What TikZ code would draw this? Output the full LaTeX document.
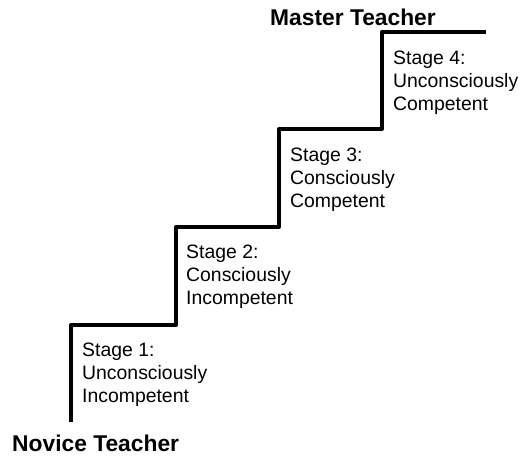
\documentclass[tikz,border=0pt]{standalone}
\usepackage{fontspec}
\setmainfont{Liberation Sans}
\begin{document}
\begin{tikzpicture}[x=1pt,y=-1pt,
  stair/.style={line width=4pt,line join=round,line cap=butt},
  stagelabel/.style={anchor=base west,inner sep=0pt,font={\fontsize{19.4}{23}\selectfont}},
  title/.style={anchor=base west,inner sep=0pt,font={\fontsize{22.8}{26}\selectfont\bfseries}}]
\useasboundingbox (0,0) rectangle (523,456);
\coordinate (s0) at (71,422);
\coordinate (c1) at (71,325);
\coordinate (e1) at (176,325);
\coordinate (c2) at (176,227);
\coordinate (e2) at (279,227);
\coordinate (c3) at (279,129);
\coordinate (e3) at (382,129);
\coordinate (c4) at (382,32);
\coordinate (s5) at (486,32);
\draw[stair] (s0) -- (c1) -- (e1) -- (c2) -- (e2) -- (c3) -- (e3) -- (c4) -- (s5);
\node[stagelabel] (l1) at (82,356) {Stage 1:};
\node[stagelabel] (l1b) at (82,379) {Unconsciously};
\node[stagelabel] (l1c) at (82,402) {Incompetent};
\node[stagelabel] (l2) at (186,258) {Stage 2:};
\node[stagelabel] (l2b) at (186,281) {Consciously};
\node[stagelabel] (l2c) at (186,304) {Incompetent};
\node[stagelabel] (l3) at (290,161) {Stage 3:};
\node[stagelabel] (l3b) at (290,184) {Consciously};
\node[stagelabel] (l3c) at (290,207) {Competent};
\node[stagelabel] (l4) at (393,64) {Stage 4:};
\node[stagelabel] (l4b) at (393,87) {Unconsciously};
\node[stagelabel] (l4c) at (393,110) {Competent};
\node[title] (novice) at (12,451) {Novice Teacher};
\node[title] (master) at (270,25) {Master Teacher};
\end{tikzpicture}
\end{document}
